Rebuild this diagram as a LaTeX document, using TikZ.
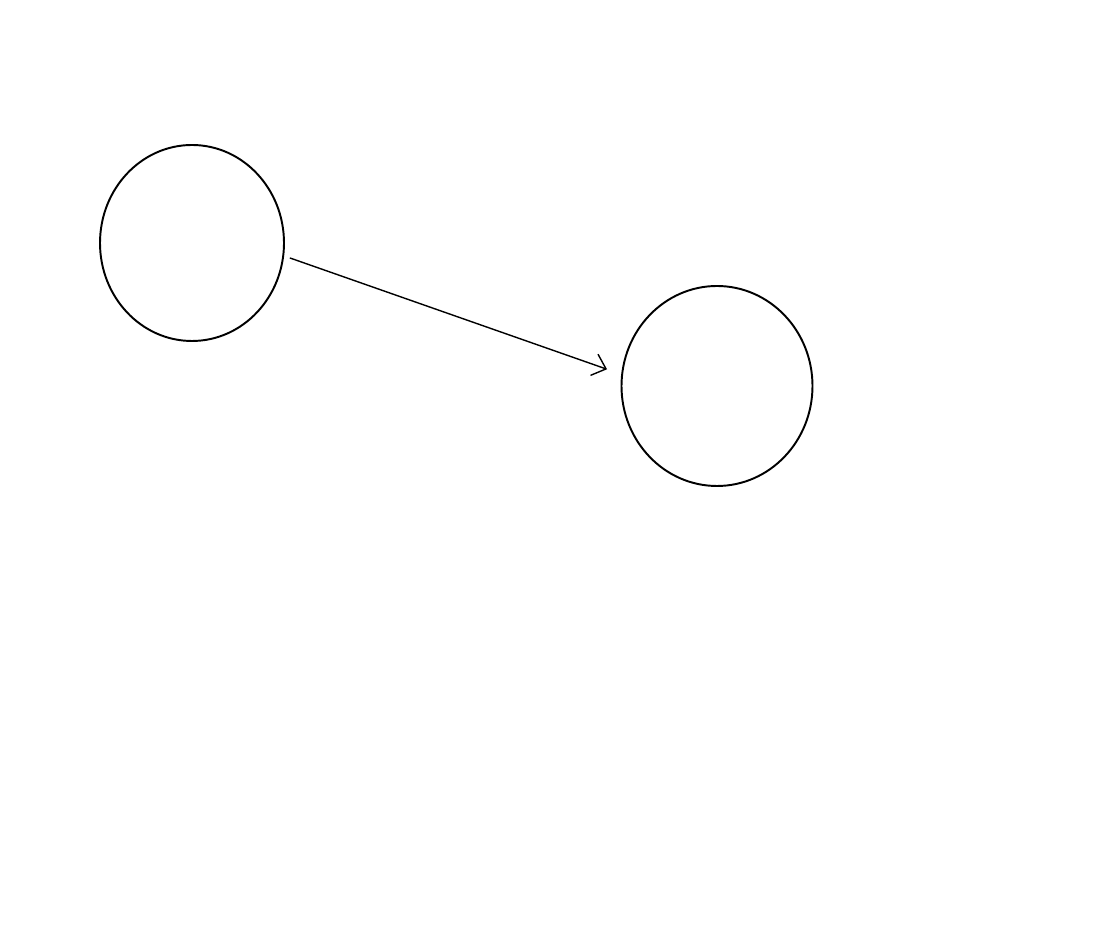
\documentclass[tikz,border=0pt]{standalone}
\usepackage{tikz}
\usetikzlibrary{arrows.meta,shapes.geometric}

\begin{document}
\begin{tikzpicture}
  \useasboundingbox (0,0) rectangle (22.02,18.94);

  \tikzset{
    blob/.style={draw, ellipse, line width=1.1pt, inner sep=0pt},
    link/.style={-{Straight Barb[length=2.5mm,width=4.5mm]}, line width=0.8pt}
  }

  \node [blob, minimum width=3.68cm, minimum height=3.92cm] (start) at (3.84,14.08) {};
  \node [blob, minimum width=3.82cm, minimum height=4.0cm] (target) at (14.34,11.22) {};

  \draw [link, shorten <=0.12cm, shorten >=0.3cm] (start.-8) -- (target.173);
\end{tikzpicture}
\end{document}
